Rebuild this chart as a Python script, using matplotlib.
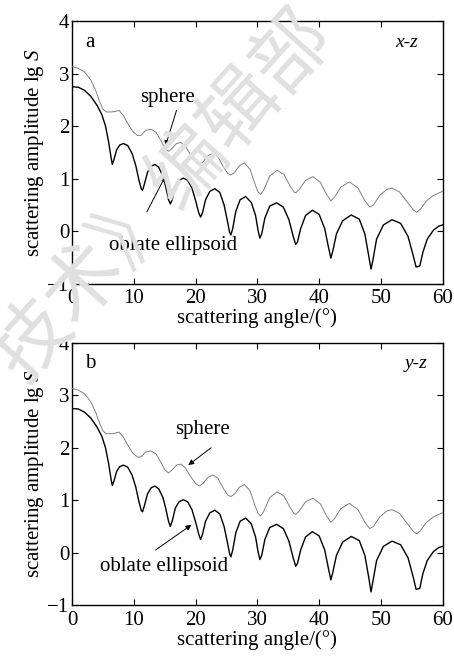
#!/usr/bin/env python3

import matplotlib
matplotlib.use("Agg")
import matplotlib.pyplot as plt

# scattering amplitude lg S vs scattering angle
# panel a (x-z plane)
angle_sphere_xz = [0, 1, 2, 3, 3.8, 4.5, 5.0, 5.5, 6.3, 7.0, 7.6, 8.3, 9.0, 9.8,
                   10.6, 11.2, 11.9, 12.8, 13.6, 14.4, 15.0, 15.6, 16.2, 16.9,
                   17.6, 18.3, 19.2, 20.0, 20.6, 21.2, 22.0, 22.8, 23.6, 24.5,
                   25.2, 25.7, 26.3, 27.1, 27.9, 28.8, 29.6, 30.1, 30.5, 31.0,
                   32.0, 33.2, 34.3, 35.3, 35.9, 36.2, 36.8, 37.8, 39.0, 40.2,
                   41.2, 41.9, 42.5, 43.5, 44.9, 46.3, 47.4, 48.2, 48.8, 49.8,
                   51.0, 51.8, 53.0, 54.3, 55.3, 55.8, 56.4, 57.4, 58.5, 59.4, 60.0]
sphere_xz = [3.13, 3.10, 3.03, 2.88, 2.68, 2.45, 2.32, 2.27, 2.27, 2.28, 2.30,
             2.20, 2.05, 1.90, 1.82, 1.83, 1.92, 1.94, 1.88, 1.72, 1.58, 1.52,
             1.58, 1.67, 1.69, 1.62, 1.45, 1.32, 1.27, 1.32, 1.44, 1.48, 1.42,
             1.22, 1.10, 1.07, 1.12, 1.25, 1.30, 1.18, 0.90, 0.75, 0.70, 0.78,
             1.05, 1.16, 1.08, 0.86, 0.75, 0.73, 0.80, 0.97, 1.04, 0.93, 0.70,
             0.58, 0.65, 0.84, 0.94, 0.82, 0.58, 0.46, 0.50, 0.68, 0.80, 0.82,
             0.75, 0.55, 0.40, 0.36, 0.42, 0.58, 0.68, 0.73, 0.76]

angle_oblate_xz = [0, 1, 2, 3, 4, 4.8, 5.4, 5.9, 6.3, 6.5, 6.8, 7.2, 7.7, 8.3,
                   9.0, 9.7, 10.3, 10.8, 11.2, 11.4, 11.7, 12.2, 12.8, 13.4,
                   14.0, 14.7, 15.2, 15.6, 15.9, 16.2, 16.7, 17.3, 18.0, 18.7,
                   19.4, 20.0, 20.5, 20.8, 21.1, 21.6, 22.3, 23.1, 23.9, 24.6,
                   25.1, 25.5, 25.7, 26.0, 26.5, 27.2, 28.1, 29.0, 29.7, 30.1,
                   30.4, 30.7, 31.2, 32.0, 33.1, 34.2, 35.1, 35.8, 36.2, 36.5,
                   37.0, 37.8, 38.9, 40.0, 40.9, 41.5, 41.9, 42.2, 42.8, 43.8,
                   45.2, 46.5, 47.4, 48.0, 48.4, 48.7, 49.3, 50.4, 51.8, 53.2,
                   54.4, 55.2, 55.7, 56.3, 56.8, 57.5, 58.5, 59.4, 60.0]
oblate_xz = [2.75, 2.74, 2.68, 2.57, 2.40, 2.22, 2.00, 1.70, 1.40, 1.27, 1.38,
             1.55, 1.64, 1.67, 1.63, 1.48, 1.25, 0.98, 0.80, 0.78, 0.90, 1.12,
             1.24, 1.27, 1.22, 1.05, 0.82, 0.60, 0.52, 0.60, 0.85, 0.97, 1.01,
             0.97, 0.82, 0.58, 0.35, 0.27, 0.35, 0.60, 0.76, 0.81, 0.74, 0.50,
             0.22, -0.02, -0.07, 0.05, 0.38, 0.60, 0.66, 0.55, 0.30, 0.02,
             -0.13, -0.05, 0.25, 0.48, 0.54, 0.46, 0.22, -0.10, -0.25, -0.20,
             0.05, 0.30, 0.40, 0.32, 0.05, -0.30, -0.51, -0.38, -0.05, 0.20,
             0.31, 0.23, -0.05, -0.45, -0.72, -0.55, -0.15, 0.12, 0.22, 0.15,
             -0.10, -0.45, -0.68, -0.66, -0.40, -0.15, 0.02, 0.10, 0.12]

# panel b (y-z plane) reads the same as panel a apart from the deepest dips
angle_sphere_yz = list(angle_sphere_xz)
sphere_yz = list(sphere_xz)
angle_oblate_yz = list(angle_oblate_xz)
oblate_yz = [2.75, 2.74, 2.68, 2.57, 2.40, 2.22, 2.00, 1.70, 1.40, 1.28, 1.38,
             1.55, 1.64, 1.67, 1.63, 1.48, 1.25, 0.98, 0.80, 0.78, 0.90, 1.12,
             1.24, 1.27, 1.22, 1.05, 0.82, 0.60, 0.50, 0.60, 0.85, 0.97, 1.01,
             0.97, 0.82, 0.58, 0.35, 0.25, 0.35, 0.60, 0.76, 0.81, 0.74, 0.50,
             0.22, -0.02, -0.08, 0.05, 0.38, 0.60, 0.66, 0.55, 0.30, 0.02,
             -0.13, -0.05, 0.25, 0.48, 0.54, 0.46, 0.22, -0.10, -0.26, -0.20,
             0.05, 0.30, 0.40, 0.32, 0.05, -0.30, -0.52, -0.38, -0.05, 0.20,
             0.31, 0.23, -0.05, -0.45, -0.75, -0.55, -0.15, 0.12, 0.22, 0.15,
             -0.10, -0.45, -0.70, -0.68, -0.40, -0.15, 0.02, 0.10, 0.12]

plt.rcParams["font.family"] = ["Liberation Serif", "DejaVu Serif"]
plt.rcParams["mathtext.fontset"] = "custom"
plt.rcParams["mathtext.rm"] = "Liberation Serif"
plt.rcParams["mathtext.it"] = "Liberation Serif:italic"

FS = 15
ARROW = dict(arrowstyle="-|>", color="black", lw=0.7, mutation_scale=8,
             shrinkA=0, shrinkB=0)


def draw_panel(ax, xs, ys, xo, yo, tag, plane, sphere_txt, sphere_arrow,
               oblate_txt, oblate_arrow, plane_x):
    ax.set_facecolor("none")
    ax.plot(xs, ys, color="0.5", lw=0.7, zorder=3)
    ax.plot(xo, yo, color="black", lw=1.0, zorder=3)
    ax.set_xlim(0, 60)
    ax.set_ylim(-1, 4)
    ax.set_xticks(range(0, 61, 10))
    ax.set_yticks(range(-1, 5))
    ax.tick_params(direction="in", length=4, width=0.8, labelsize=FS,
                   top=True, right=True, pad=2)
    ax.tick_params(axis="x", pad=4)
    for s in ax.spines.values():
        s.set_linewidth(1.0)
    ax.set_xlabel("scattering angle/(°)", fontsize=FS, labelpad=0)
    ax.set_ylabel("scattering amplitude lg $S$", fontsize=FS, labelpad=1)
    ax.text(2.9, 3.6, tag, fontsize=FS, ha="center", va="center")
    ax.text(plane_x, 3.6, plane, fontsize=14, style="italic", ha="right",
            va="center")
    ax.text(*sphere_txt, "sphere", fontsize=FS, ha="center", va="center")
    ax.annotate("", xy=sphere_arrow[1], xytext=sphere_arrow[0],
                arrowprops=ARROW)
    ax.text(*oblate_txt, "oblate ellipsoid", fontsize=FS, ha="center",
            va="center")
    ax.annotate("", xy=oblate_arrow[1], xytext=oblate_arrow[0],
                arrowprops=ARROW)


fig = plt.figure(figsize=(4.54, 6.57), dpi=100)

# faint watermark behind the plots
fig.text(0.36, 0.70, "技术》编辑部", fontsize=56, color="#e0e0e0",
         rotation=48, ha="center", va="center", zorder=0,
         family=["Noto Sans CJK SC", "DejaVu Sans"])

ax1 = fig.add_axes([0.159, 0.568, 0.816, 0.400])
ax2 = fig.add_axes([0.159, 0.079, 0.816, 0.399])

draw_panel(ax1, angle_sphere_xz, sphere_xz, angle_oblate_xz, oblate_xz,
           "a", "x-z", (15.5, 2.55), ((16.9, 2.30), (15.1, 1.62)),
           (16.3, -0.27), ((12.1, 0.37), (15.1, 1.05)), 56.0)
draw_panel(ax2, angle_sphere_yz, sphere_yz, angle_oblate_yz, oblate_yz,
           "b", "y-z", (21.1, 2.34), ((22.5, 2.00), (18.8, 1.67)),
           (14.8, -0.27), ((13.5, 0.05), (19.3, 0.53)), 57.6)

fig.savefig("out.png", dpi=100)
